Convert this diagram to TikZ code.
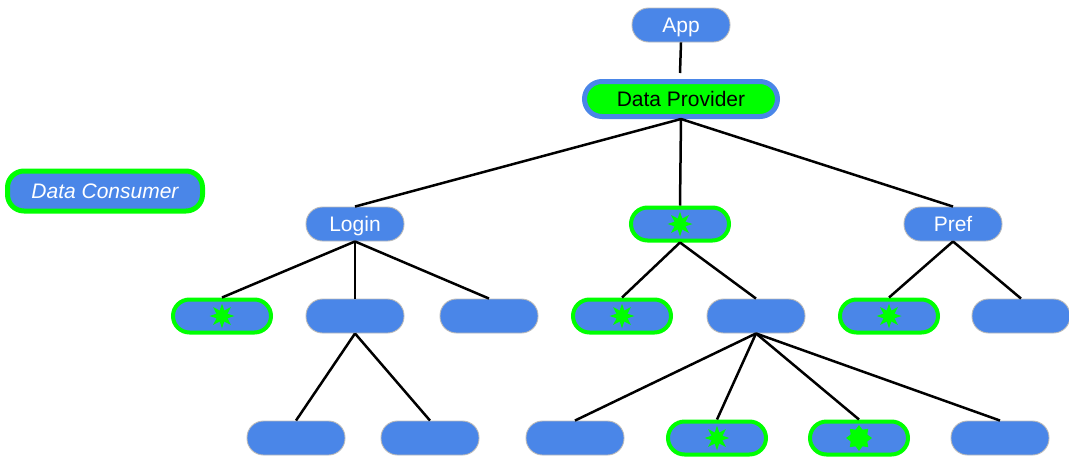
\documentclass[tikz,border=0pt]{standalone}
\usepackage{fontspec}
\setmainfont{Liberation Sans}
\usetikzlibrary{shapes.geometric}
\definecolor{nodeblue}{HTML}{4A86E8}
\definecolor{brightgreen}{HTML}{00FF00}
\definecolor{rimgray}{HTML}{BBBBBB}
\tikzset{
  labelfont/.style={font=\fontsize{21}{24}\selectfont, text height=15pt, text depth=1pt},
  plain/.style={rectangle, rounded corners=16.5pt, fill=nodeblue, draw=rimgray,
    line width=0.9pt, minimum width=98pt, minimum height=34pt, inner sep=0pt,
    text=white, labelfont},
  consumer/.style={rectangle, rounded corners=16.5pt, fill=nodeblue, draw=brightgreen,
    line width=4pt, minimum width=98pt, minimum height=33pt, inner sep=0pt,
    text=white, labelfont},
  provider/.style={rectangle, rounded corners=17.5pt, fill=brightgreen, draw=nodeblue,
    line width=5pt, minimum width=193pt, minimum height=35pt, inner sep=0pt,
    text=black, labelfont},
  burst/.style={star, star points=8, star point ratio=2.1, minimum size=25pt,
    inner sep=0pt, fill=brightgreen, draw=none},
  fatburst/.style={burst, star point ratio=1.45, minimum size=26pt},
  edge/.style={draw=black, line width=2.5pt},
}
\begin{document}
\begin{tikzpicture}[x=1pt,y=-1pt]
\useasboundingbox (0,0) rectangle (1069,456);

% legend
\node[consumer, line width=5pt, minimum width=195pt, minimum height=40pt,
      font=\fontsize{21}{24}\selectfont\itshape] (legend) at (105,191) {Data Consumer};

% top of the tree
\node[plain] (app) at (681,25) {App};
\node[provider] (dp) at (681,99) {Data Provider};
\coordinate (dptop) at (680,73);

% second level
\node[plain] (login) at (355,224) {Login};
\node[consumer] (mid) at (680,224) {};
\node[plain] (pref) at (953,224) {Pref};

% third level
\node[consumer] (a1) at (222,316) {};
\node[plain] (a2) at (355,316) {};
\node[plain] (a3) at (489,316) {};
\node[consumer] (b1) at (622,316) {};
\node[plain] (b2) at (756,316) {};
\node[consumer] (c1) at (889,316) {};
\node[plain] (c2) at (1021,316) {};

% fourth level
\node[plain] (d1) at (296,438) {};
\node[plain] (d2) at (430,438) {};
\node[plain] (e1) at (575,438) {};
\node[consumer] (e2) at (717,438) {};
\node[consumer] (e3) at (859,438) {};
\node[plain] (e4) at (1000,438) {};

% consumer markers
\node[burst] (smid) at (mid.center) {};
\node[burst] (sa1) at (a1.center) {};
\node[burst] (sb1) at (b1.center) {};
\node[burst] (sc1) at (c1.center) {};
\node[burst] (se2) at (e2.center) {};
\node[fatburst] (se3) at (e3.center) {};

% connectors
\path[edge] (app.south) -- (dptop);
\path[edge] (dp.south) -- (login.north);
\path[edge] (dp.south) -- (mid.north);
\path[edge] (dp.south) -- (pref.north);
\path[edge] (login.south) -- (a1.north);
\path[edge] (login.south) -- (a2.north);
\path[edge] (login.south) -- (a3.north);
\path[edge] (mid.south) -- (b1.north);
\path[edge] (mid.south) -- (b2.north);
\path[edge] (pref.south) -- (c1.north);
\path[edge] (pref.south) -- (c2.north);
\path[edge] (a2.south) -- (d1.north);
\path[edge] (a2.south) -- (d2.north);
\path[edge] (b2.south) -- (e1.north);
\path[edge] (b2.south) -- (e2.north);
\path[edge] (b2.south) -- (e3.north);
\path[edge] (b2.south) -- (e4.north);
\end{tikzpicture}
\end{document}
